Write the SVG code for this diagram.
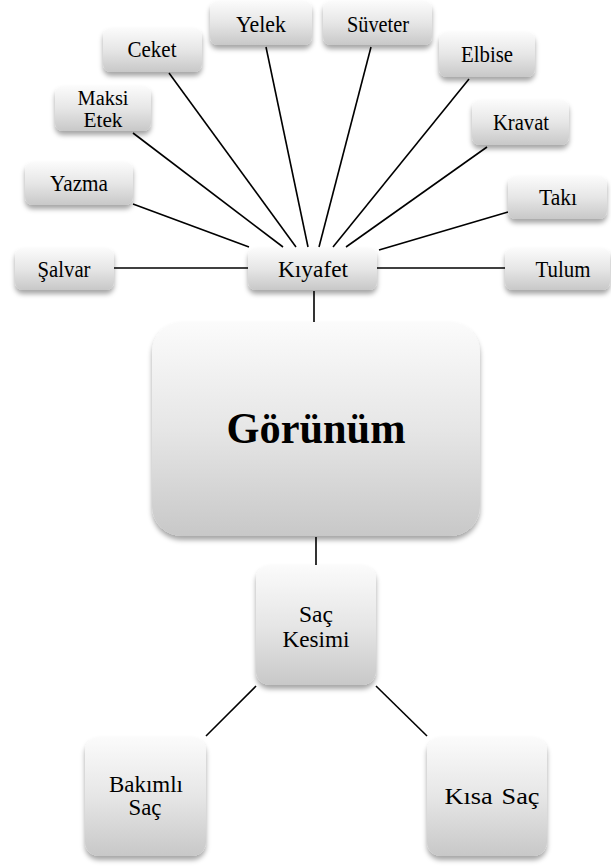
<svg xmlns="http://www.w3.org/2000/svg" width="611" height="866" viewBox="0 0 611 866" font-family="'Liberation Serif', 'Times New Roman', serif">
<defs>
<linearGradient id="g" x1="0" y1="0" x2="0" y2="1">
<stop offset="0" stop-color="#fbfbfb"/>
<stop offset="0.5" stop-color="#e6e6e6"/>
<stop offset="1" stop-color="#c8c8c8"/>
</linearGradient>
<filter id="sh" x="-20%" y="-20%" width="140%" height="150%">
<feDropShadow dx="0" dy="4" stdDeviation="2.5" flood-color="#000" flood-opacity="0.35"/>
</filter>
</defs>
<style>
.box{fill:url(#g);filter:url(#sh)}
text{font-family:"Liberation Serif","Times New Roman",serif;font-size:23px;fill:#000;text-anchor:middle}
text.sm{font-size:20px}
text.big{font-size:45px;font-weight:bold}
.c line{stroke:#000;stroke-width:1.6}
</style>
<rect width="611" height="866" fill="#fff"/>
<g class="c">
<line x1="114" y1="268" x2="248" y2="268"/>
<line x1="377" y1="268" x2="505" y2="268"/>
<line x1="133" y1="204" x2="249" y2="247"/>
<line x1="133" y1="133" x2="283" y2="247"/>
<line x1="169" y1="73" x2="296" y2="247"/>
<line x1="266" y1="47" x2="308" y2="247"/>
<line x1="371" y1="47" x2="319" y2="247"/>
<line x1="469" y1="79" x2="333" y2="247"/>
<line x1="487" y1="147" x2="346" y2="247"/>
<line x1="508" y1="212" x2="379" y2="250"/>
<line x1="314" y1="291" x2="314" y2="322"/>
<line x1="316" y1="537" x2="316" y2="565"/>
<line x1="256" y1="686" x2="206" y2="736"/>
<line x1="376" y1="686" x2="427" y2="736"/>
</g>
<g id="salvar"><rect class="box" x="15" y="248" width="99" height="42" rx="8"/><text x="64" y="277" textLength="53" lengthAdjust="spacingAndGlyphs">Şalvar</text></g>
<g id="kiyafet"><rect class="box" x="248" y="248" width="129" height="42" rx="8"/><text x="313" y="277" textLength="70" lengthAdjust="spacingAndGlyphs">Kıyafet</text></g>
<g id="tulum"><rect class="box" x="505" y="248" width="105" height="42" rx="8"/><text x="563" y="277" textLength="55" lengthAdjust="spacingAndGlyphs">Tulum</text></g>
<g id="yazma"><rect class="box" x="25" y="162" width="108" height="43" rx="8"/><text x="79" y="191" textLength="58" lengthAdjust="spacingAndGlyphs">Yazma</text></g>
<g id="taki"><rect class="box" x="508" y="176" width="99" height="43" rx="8"/><text x="558" y="205" textLength="38" lengthAdjust="spacingAndGlyphs">Takı</text></g>
<g id="maksietek"><rect class="box" x="55" y="86" width="96" height="45" rx="8"/><text class="sm" x="103" y="105" textLength="51" lengthAdjust="spacingAndGlyphs">Maksi</text><text class="sm" x="103" y="127" textLength="39" lengthAdjust="spacingAndGlyphs">Etek</text></g>
<g id="kravat"><rect class="box" x="472" y="100" width="97" height="45" rx="8"/><text x="521" y="130" textLength="56" lengthAdjust="spacingAndGlyphs">Kravat</text></g>
<g id="ceket"><rect class="box" x="103" y="28" width="99" height="44" rx="8"/><text x="152" y="57" textLength="49" lengthAdjust="spacingAndGlyphs">Ceket</text></g>
<g id="elbise"><rect class="box" x="439" y="32" width="96" height="45" rx="8"/><text x="487" y="62" textLength="52" lengthAdjust="spacingAndGlyphs">Elbise</text></g>
<g id="yelek"><rect class="box" x="210" y="1" width="102" height="44" rx="8"/><text x="261" y="32" textLength="50" lengthAdjust="spacingAndGlyphs">Yelek</text></g>
<g id="suveter"><rect class="box" x="323" y="1" width="109" height="44" rx="8"/><text x="378" y="32" textLength="62" lengthAdjust="spacingAndGlyphs">Süveter</text></g>
<g id="gorunum"><rect class="box" x="152" y="322" width="328" height="214" rx="30"/><text class="big" x="316" y="443" textLength="179" lengthAdjust="spacingAndGlyphs">Görünüm</text></g>
<g id="sackesimi"><rect class="box" x="256" y="565" width="120" height="120" rx="14"/><text x="316" y="622" textLength="34" lengthAdjust="spacingAndGlyphs">Saç</text><text x="316" y="647" textLength="67" lengthAdjust="spacingAndGlyphs">Kesimi</text></g>
<g id="bakimlisac"><rect class="box" x="85" y="737" width="121" height="119" rx="14"/><text x="146" y="792" textLength="74" lengthAdjust="spacingAndGlyphs">Bakımlı</text><text x="145" y="815" textLength="33" lengthAdjust="spacingAndGlyphs">Saç</text></g>
<g id="kisasac"><rect class="box" x="427" y="737" width="120" height="119" rx="14"/><text x="492" y="804" word-spacing="2" textLength="95" lengthAdjust="spacingAndGlyphs">Kısa Saç</text></g>
</svg>
